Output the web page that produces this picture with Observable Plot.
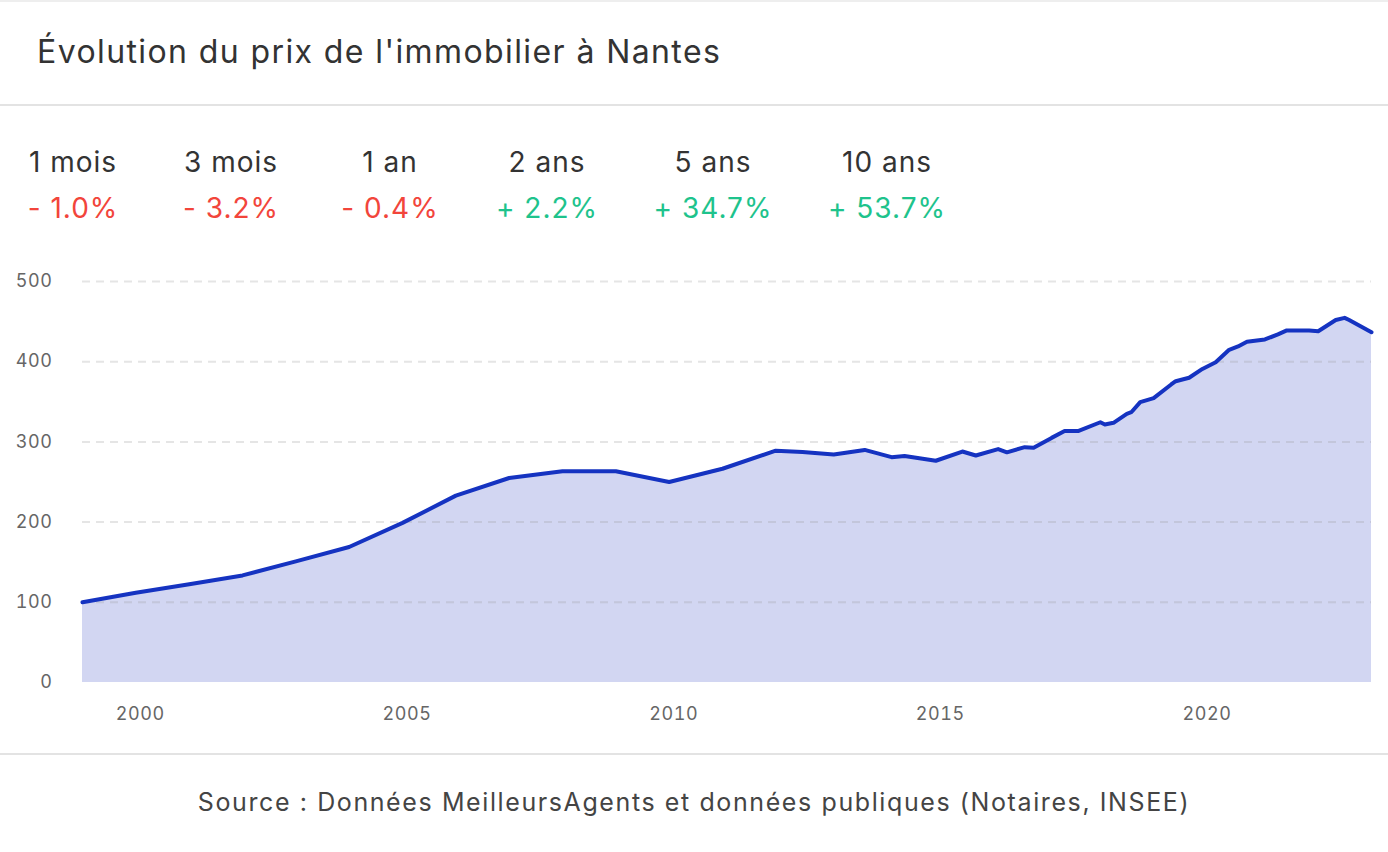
<!DOCTYPE html>
<html>
<head>
<meta charset="utf-8">
<script src="https://cdn.jsdelivr.net/npm/d3@7"></script>
<script src="https://cdn.jsdelivr.net/npm/@observablehq/plot@0.6"></script>
<style>
  html, body { margin: 0; padding: 0; background: #fff; }
  body { width: 1388px; height: 852px; position: relative; overflow: hidden; font-family: Inter, "Noto Sans", sans-serif; color: #333; }
  .topline { position: absolute; left: 0; top: 0; width: 1388px; height: 2px; background: #eeeeee; }
  .title { position: absolute; left: 37px; top: 32px; font-size: 32px; color: #333; white-space: nowrap; letter-spacing: 1.4px; }
  .sep { position: absolute; left: 0; width: 1388px; height: 2px; background: #e3e3e3; }
  .stat { position: absolute; transform: translateX(-50%); white-space: nowrap; font-size: 28px; letter-spacing: 1px; text-align: center; }
  .lab { color: #333; }
  .neg { color: #f2453b; }
  .pos { color: #1ec38c; }
  #chart { position: absolute; left: 0; top: 262px; }
  .source { position: absolute; left: 0; width: 1388px; top: 787px; text-align: center; font-size: 25px; letter-spacing: 1.6px; color: #444; }
</style>
</head>
<body>
<div class="topline"></div>
<div class="title">Évolution du prix de l'immobilier à Nantes</div>
<div class="sep" style="top:104px"></div>
<div id="stats"></div>
<div id="chart"></div>
<div class="sep" style="top:753px"></div>
<div class="source">Source : Données MeilleursAgents et données publiques (Notaires, INSEE)</div>
<script>
// ---- Data ----
const months = [
  "1998-12","1999-12","2000-12","2001-12","2002-12","2003-12","2004-12","2005-12",
  "2006-12","2007-12","2008-12","2009-12","2010-12","2011-12","2012-06","2013-01",
  "2013-08","2014-02","2014-05","2014-12","2015-06","2015-09","2016-02","2016-04",
  "2016-08","2016-10","2017-02","2017-05","2017-08","2018-01","2018-02","2018-04",
  "2018-07","2018-08","2018-10","2019-01","2019-05","2019-06","2019-09","2019-12",
  "2020-03","2020-06","2020-08","2020-10","2021-02","2021-05","2021-07","2021-12",
  "2022-02","2022-06","2022-08","2022-09","2023-02"
];
const priceIndex = [
  100, 112, 122.5, 133.5, 151, 169, 199, 233,
  255, 263.5, 263.5, 250, 266.5, 289, 287.5, 284.3,
  290, 281, 282.5, 276.5, 288, 283, 291, 287,
  293.4, 292.6, 305, 313.5, 313.5, 324.5, 321.7, 323.8,
  335, 337, 349.5, 354.5, 371.6, 375.7, 380, 391,
  399.4, 414.8, 419, 424.8, 427.7, 434, 439, 439,
  438, 452, 454.7, 452, 436.8
];
const periodLabels = ["1 mois", "3 mois", "1 an", "2 ans", "5 ans", "10 ans"];
const periodChanges = [-1.0, -3.2, -0.4, 2.2, 34.7, 53.7];
const yTicks = [0, 100, 200, 300, 400, 500];
const xTickYears = [2000, 2005, 2010, 2015, 2020];

// ---- Stats row ----
const statCenters = [73, 231, 390, 547, 713, 887];
const stats = document.getElementById("stats");
periodLabels.forEach((lab, i) => {
  const v = periodChanges[i];
  const a = document.createElement("div");
  a.className = "stat lab";
  a.style.left = statCenters[i] + "px";
  a.style.top = "145px";
  a.textContent = lab;
  stats.appendChild(a);
  const b = document.createElement("div");
  b.className = "stat " + (v < 0 ? "neg" : "pos");
  b.style.left = statCenters[i] + "px";
  b.style.top = "191px";
  b.textContent = (v < 0 ? "- " : "+ ") + Math.abs(v).toFixed(1) + "%";
  stats.appendChild(b);
});

// ---- Chart ----
const data = months.map((m, i) => {
  const [y, mo] = m.split("-").map(Number);
  return { date: new Date(Date.UTC(y, mo - 1, 1)), value: priceIndex[i] };
});

const chart = Plot.plot({
  width: 1388,
  height: 470,
  marginLeft: 82,
  marginRight: 17,
  marginTop: 19,
  marginBottom: 50,
  style: { fontFamily: "Inter, 'Noto Sans', sans-serif", fontSize: "18px", letterSpacing: "0.6px", color: "#666", background: "white" },
  x: {
    type: "utc",
    domain: [data[0].date, data[data.length - 1].date],
    ticks: xTickYears.map(y => new Date(Date.UTC(y, 0, 1))),
    tickFormat: d => String(d.getUTCFullYear()),
    tickSize: 0,
    tickPadding: 25,
    label: null
  },
  y: {
    domain: [0, 500],
    ticks: yTicks,
    tickSize: 0,
    tickPadding: 30,
    label: null
  },
  marks: [
    Plot.areaY(data, { x: "date", y: "value", fill: "#d2d6f2", fillOpacity: 1 }),
    Plot.ruleY(yTicks.filter(t => t > 0), { stroke: "#999999", strokeOpacity: 0.25, strokeDasharray: "8,6", strokeWidth: 2 }),
    Plot.lineY(data, { x: "date", y: "value", stroke: "#1533c1", strokeWidth: 4, strokeLinejoin: "round" })
  ]
});
document.getElementById("chart").appendChild(chart);
</script>
</body>
</html>
